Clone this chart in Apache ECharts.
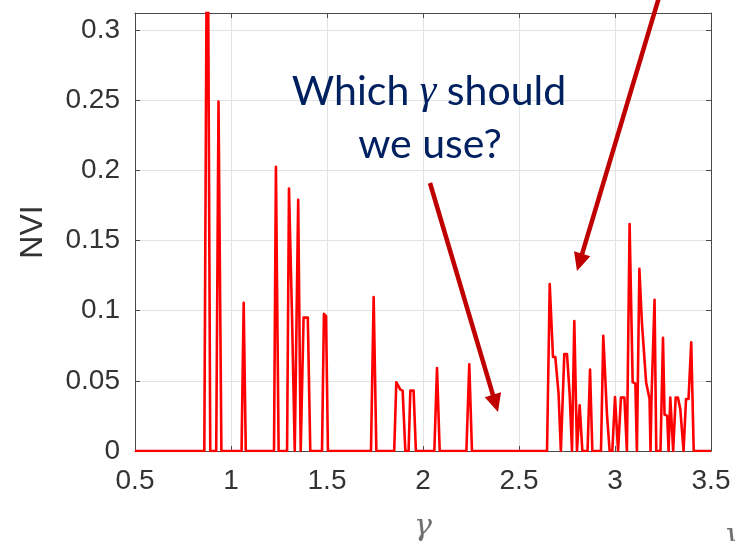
<!DOCTYPE html>
<html>
<head>
<meta charset="utf-8">
<script src="https://cdn.jsdelivr.net/npm/echarts@6/dist/echarts.min.js"></script>
<style>
  html, body { margin: 0; padding: 0; background: #ffffff; }
  #chart { width: 735px; height: 541px; }
</style>
</head>
<body>
<div id="chart"></div>
<script>
// ---- data ----
const gammaValues = [
  0.5,
  0.861, 0.877, 0.892,
  0.923, 0.935, 0.950,
  1.055, 1.066, 1.077,
  1.224, 1.234, 1.248,
  1.292, 1.302, 1.318, 1.332, 1.350, 1.363, 1.378, 1.400, 1.413,
  1.474, 1.484, 1.495, 1.505,
  1.729, 1.743, 1.757,
  1.850, 1.861, 1.882, 1.894, 1.908,
  1.925, 1.934, 1.951, 1.963,
  2.059, 2.073, 2.087,
  2.226, 2.241, 2.255,
  2.646, 2.660, 2.677, 2.689, 2.706, 2.718, 2.736, 2.750, 2.764, 2.776,
  2.788, 2.802, 2.816, 2.830,
  2.857, 2.870, 2.882,
  2.927, 2.939, 2.958, 2.972,
  2.986, 3.000, 3.008, 3.016, 3.031, 3.049, 3.062, 3.076, 3.092, 3.106, 3.114,
  3.127, 3.140, 3.150, 3.162, 3.171, 3.180, 3.185, 3.190, 3.206, 3.215,
  3.237, 3.250, 3.258, 3.272, 3.279, 3.288, 3.297, 3.303, 3.316, 3.328, 3.340, 3.357,
  3.370, 3.383, 3.397, 3.410,
  3.5
];
const nviValues = [
  0,
  0, 0.45, 0,
  0, 0.249, 0,
  0, 0.1055, 0,
  0, 0.2025, 0,
  0, 0.187, 0.095, 0, 0.179, 0, 0.095, 0.095, 0,
  0, 0.0977, 0.096, 0,
  0, 0.1096, 0,
  0, 0.049, 0.0437, 0.043, 0,
  0, 0.043, 0.043, 0,
  0, 0.059, 0,
  0, 0.0617, 0,
  0, 0.119, 0.067, 0.067, 0.041, 0, 0.069, 0.069, 0.040, 0,
  0.0925, 0, 0.0325, 0,
  0, 0.058, 0,
  0, 0.082, 0.0266, 0,
  0, 0.0384, 0.038, 0, 0.038, 0.038, 0, 0.1617, 0.049, 0.048, 0,
  0.1297, 0.0918, 0.091, 0.049, 0.043, 0.037, 0, 0.037, 0.1077, 0,
  0, 0.0807, 0.026, 0.025, 0, 0.038, 0.038, 0, 0.038, 0.038, 0.030, 0,
  0.037, 0.037, 0.0775, 0,
  0
];
const xTickValues = [0.5, 1, 1.5, 2, 2.5, 3, 3.5];
const yTickValues = [0, 0.05, 0.1, 0.15, 0.2, 0.25, 0.3];
const yAxisTop = 0.312;
const xAxisTitle = 'γ';
const yAxisTitle = 'NVI';
const noteLine1 = ['Which ', 'γ', ' should'];
const noteLine2 = 'we use?';

// ---- chart ----
const chart = echarts.init(document.getElementById('chart'), null, { renderer: 'canvas' });
const seriesData = gammaValues.map((g, i) => [g, nviValues[i]]);
const xStep = xTickValues[1] - xTickValues[0];
const yStep = yTickValues[1] - yTickValues[0];
const frameColor = '#4a4a4a';
const gridColor = '#e2e2e2';
const labelColor = '#333333';

function onTick(v, step, base) {
  const k = (v - base) / step;
  return Math.abs(k - Math.round(k)) < 1e-6;
}

function arrow(x1, y1, x2, y2) {
  const dx = x2 - x1, dy = y2 - y1, L = Math.hypot(dx, dy);
  const ux = dx / L, uy = dy / L;
  const hl = 18, hw = 8.5;
  const bx = x2 - ux * hl, by = y2 - uy * hl;
  return [
    { type: 'line', z: 100, shape: { x1: x1, y1: y1, x2: bx + ux * 3, y2: by + uy * 3 },
      style: { stroke: '#c00000', lineWidth: 4.5 } },
    { type: 'polygon', z: 100, shape: { points: [[x2, y2], [bx - uy * hw, by + ux * hw], [bx + uy * hw, by - ux * hw]] },
      style: { fill: '#c00000' } }
  ];
}

const xBase = {
  type: 'value', min: xTickValues[0], max: xTickValues[xTickValues.length - 1], interval: xStep,
  axisLine: { show: true, onZero: false, lineStyle: { color: frameColor, width: 1 } },
  axisTick: { show: true, inside: true, length: 5, lineStyle: { color: frameColor } }
};
const yBase = {
  type: 'value', min: yTickValues[0], max: yAxisTop, interval: yStep,
  axisLine: { show: true, onZero: false, lineStyle: { color: frameColor, width: 1 } },
  axisTick: { show: true, inside: true, length: 5, lineStyle: { color: frameColor } }
};

chart.setOption({
  animation: false,
  backgroundColor: '#ffffff',
  grid: { left: 135, right: 24, top: 13, bottom: 90, containLabel: false, outerBoundsMode: 'none' },
  xAxis: [
    Object.assign({}, xBase, {
      position: 'bottom',
      name: xAxisTitle, nameLocation: 'middle', nameGap: 61,
      nameTextStyle: { fontFamily: 'DejaVu Serif', fontStyle: 'italic', fontSize: 30, color: '#707070' },
      axisLabel: { show: true, margin: 16, fontSize: 28, color: labelColor, fontFamily: 'Liberation Sans',
        formatter: v => onTick(v, xStep, xTickValues[0]) ? String(v) : '' },
      splitLine: { show: true, lineStyle: { color: gridColor, width: 1 } }
    }),
    Object.assign({}, xBase, { position: 'top', axisLabel: { show: false }, splitLine: { show: false } })
  ],
  yAxis: [
    Object.assign({}, yBase, {
      position: 'left',
      name: yAxisTitle, nameLocation: 'middle', nameGap: 86,
      nameTextStyle: { fontFamily: 'Liberation Sans', fontSize: 32, color: labelColor },
      axisLabel: { show: true, margin: 15, fontSize: 28, color: labelColor, fontFamily: 'Liberation Sans',
        formatter: v => onTick(v, yStep, 0) ? String(v) : '' },
      splitLine: { show: true, lineStyle: { color: gridColor, width: 1 } }
    }),
    Object.assign({}, yBase, { position: 'right', axisLabel: { show: false }, splitLine: { show: false } })
  ],
  series: [{
    type: 'line',
    xAxisIndex: 0, yAxisIndex: 0,
    data: seriesData,
    showSymbol: false,
    symbol: 'none',
    clip: true,
    lineStyle: { color: '#ff0000', width: 2.6, join: 'round' },
    z: 5
  }],
  graphic: [].concat(
    arrow(660, -6, 577, 271),
    arrow(430, 183, 498, 412),
    [
      { type: 'text', z: 101, style: {
          x: 429, y: 92, textAlign: 'center', textVerticalAlign: 'middle',
          text: noteLine1[0] + '{g|' + noteLine1[1] + '}' + noteLine1[2],
          font: '41px Lato', fill: '#002060',
          rich: { g: { fontFamily: 'Liberation Serif', fontStyle: 'italic', fontSize: 42, fill: '#002060' } }
      } },
      { type: 'text', z: 101, style: {
          x: 430, y: 145, textAlign: 'center', textVerticalAlign: 'middle',
          text: noteLine2, font: '41px Lato', fill: '#002060'
      } },
      { type: 'text', z: 101, style: {
          x: 724, y: 521, textAlign: 'left', textVerticalAlign: 'top',
          text: xAxisTitle, font: 'italic 30px "DejaVu Serif"', fill: '#707070'
      } }
    ]
  )
});
</script>
</body>
</html>
